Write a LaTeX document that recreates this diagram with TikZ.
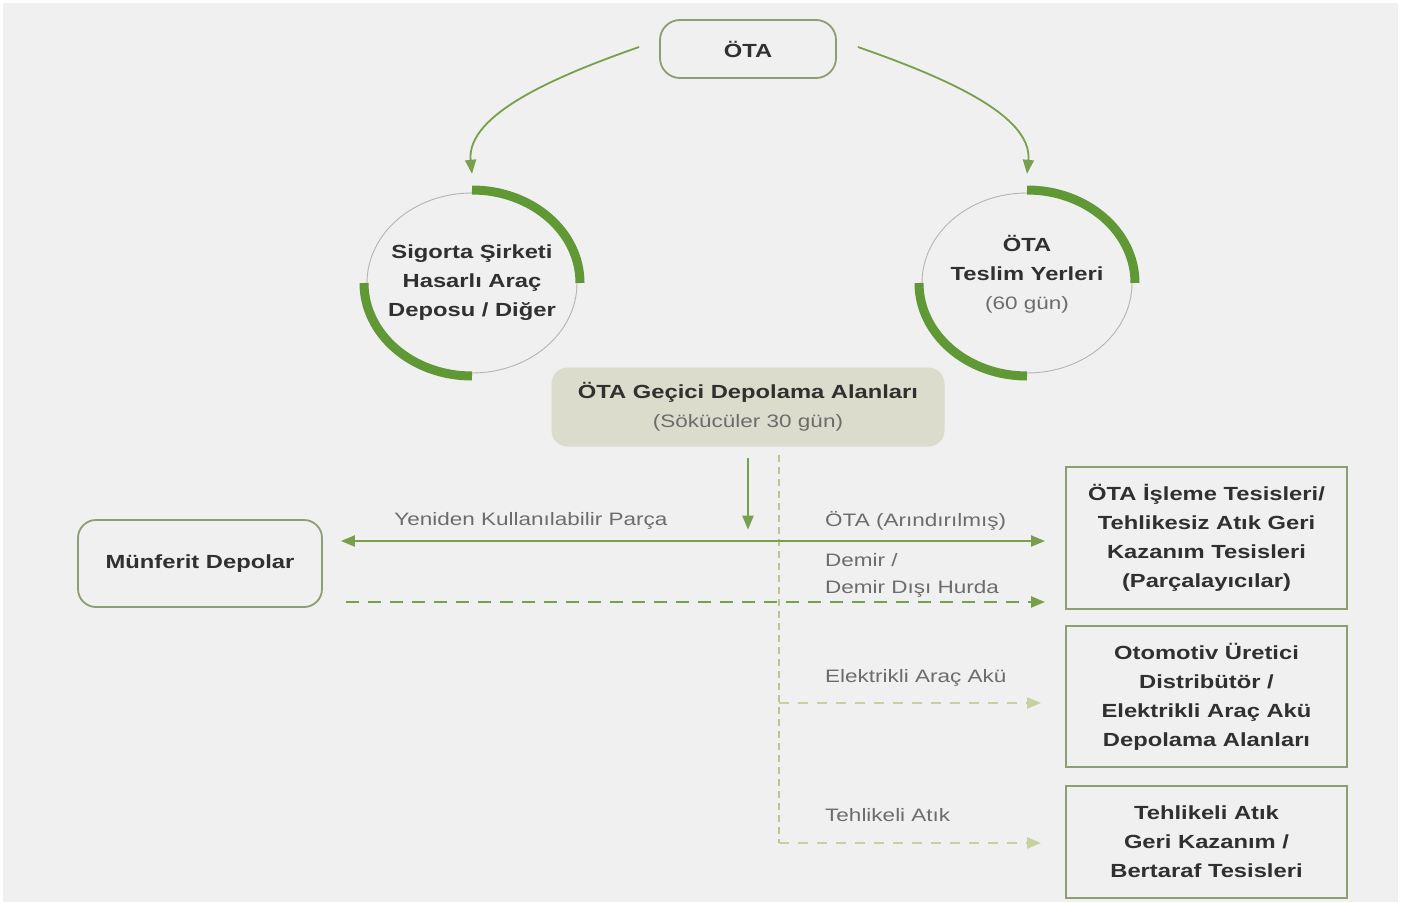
\documentclass[tikz,border=0pt]{standalone}
\usepackage{fontspec}
\setmainfont[FakeStretch=1.25]{Liberation Sans}
\usetikzlibrary{arrows.meta,shapes.geometric,calc}
\definecolor{bg}{HTML}{F0F0F0}
\definecolor{ggreen}{HTML}{5F9834}
\definecolor{lgreen}{HTML}{78A04C}
\definecolor{bordr}{HTML}{8E9E74}
\definecolor{pale}{HTML}{C6D1A2}
\definecolor{boxfill}{HTML}{DCDCCD}
\definecolor{txt}{HTML}{303030}
\definecolor{lbl}{HTML}{6C6C6C}
\definecolor{thin}{HTML}{B4B4B4}
\tikzset{
  bfont/.style={font=\bfseries\fontsize{19}{29}\selectfont, text=txt},
  rbox/.style={bfont, draw=bordr, line width=1.8pt, rounded corners=20pt, fill=bg, align=center, inner sep=0pt},
  sbox/.style={bfont, draw=bordr, line width=2pt, fill=bg, align=center, inner sep=0pt, minimum width=281pt},
  ctext/.style={bfont, align=center, inner sep=0pt, minimum width=216pt, minimum height=186pt},
  lbl/.style={font=\fontsize{18}{22}\selectfont, text=lbl, inner sep=0pt},
  tip/.style={-{Triangle[length=14pt,width=11pt]}},
  arr/.style={tip, draw=lgreen, line width=2.2pt},
  darr/.style={tip, draw=lgreen, line width=2.4pt, dash pattern=on 13pt off 9pt},
  parr/.style={tip, draw=pale, line width=2.4pt, dash pattern=on 10pt off 9pt},
  vdash/.style={draw=pale!80!lgreen, line width=1.6pt, dash pattern=on 7pt off 5pt},
  thick arc/.style={draw=ggreen, line width=9pt},
  thin ring/.style={draw=thin, line width=0.9pt}
}
\begin{document}
\begin{tikzpicture}[x=1pt,y=-1pt]
\fill[white] (0,0) rectangle (1403,902);
\fill[bg] (3,3) rectangle (1398,902);
\useasboundingbox (0,0) rectangle (1403,902);

% top node
\node[rbox, minimum width=176pt, minimum height=58pt] (ota) at (748,49) {ÖTA};

% circle nodes
\node[ctext] (sig) at (472,283) {Sigorta Şirketi\\Hasarlı Araç\\Deposu / Diğer};
\node[ctext] (tes) at (1027,283) {ÖTA\\Teslim Yerleri\\{\mdseries\fontsize{18}{29}\selectfont\color{lbl}(60 gün)}\\[-8pt]};

% rings
\foreach \n in {sig,tes}{
  \draw[thin ring] (\n.center) ellipse[x radius=105pt, y radius=90pt];
  \draw[thick arc] ($(\n.center)+(0,-93)$) arc[start angle=-90, end angle=0, x radius=108, y radius=93];
  \draw[thick arc] ($(\n.center)+(-108,0)$) arc[start angle=180, end angle=90, x radius=108, y radius=93];
}

% arrows from top
\draw[arr, line width=1.8pt] ([xshift=-20pt,yshift=2pt]ota.west) .. controls +(-80,28) and +(-6,-60) .. ([yshift=16pt]sig.north);
\draw[arr, line width=1.8pt] ([xshift=21pt,yshift=2pt]ota.east) .. controls +(80,28) and +(6,-60) .. ([yshift=16pt]tes.north);

% temporary storage
\node[bfont, fill=boxfill, rounded corners=16pt, minimum width=393pt, minimum height=79pt, align=center, inner sep=0pt] (tmp) at (748,407)
  {ÖTA Geçici Depolama Alanları\\{\mdseries\fontsize{18}{29}\selectfont\color{lbl}(Sökücüler 30 gün)}};

% left and right boxes
\node[rbox, rounded corners=18pt, minimum width=244pt, minimum height=87pt] (mun) at (200,563.5) {Münferit Depolar};
\node[sbox, minimum height=142pt] (b1) at (1206.5,538) {ÖTA İşleme Tesisleri/\\Tehlikesiz Atık Geri\\Kazanım Tesisleri\\(Parçalayıcılar)};
\node[sbox, minimum height=141pt] (b2) at (1206.5,696.5) {Otomotiv Üretici\\Distribütör /\\Elektrikli Araç Akü\\Depolama Alanları};
\node[sbox, minimum height=112pt] (b3) at (1206.5,842) {Tehlikeli Atık\\Geri Kazanım /\\Bertaraf Tesisleri};

% vertical dashed line
\coordinate (vtop) at (779,455);
\coordinate (vbot) at (779,843);
\draw[vdash] (vtop) -- (vbot);

% down arrow
\draw[arr] ([yshift=-11pt]tmp.south) -- ++(0,72);

% horizontal flows
\draw[arr, {Triangle[length=14pt,width=11pt]}-{Triangle[length=14pt,width=11pt]}] ([xshift=18pt]mun.east |- 0,541) -- ([xshift=-20pt]b1.west |- 0,541);
\draw[darr] ([xshift=23pt]mun.east |- 0,602) -- ([xshift=-20pt]b1.west |- 0,602);
\draw[parr] (vbot |- 0,703) -- ([xshift=-24pt]b2.west |- 0,703);
\draw[parr] (vbot) -- ([xshift=-24pt]b3.west |- vbot);

% labels
\node[lbl] (l1) at (531,521) {Yeniden Kullanılabilir Parça};
\node[lbl, anchor=west] (l2) at (825,521) {ÖTA (Arındırılmış)};
\node[lbl, anchor=west] (l3) at (825,560) {Demir /};
\node[lbl, anchor=west] (l4) at (825,589) {Demir Dışı Hurda};
\node[lbl, anchor=west] (l5) at (825,678) {Elektrikli Araç Akü};
\node[lbl, anchor=west] (l6) at (825,815) {Tehlikeli Atık};
\end{tikzpicture}
\end{document}
